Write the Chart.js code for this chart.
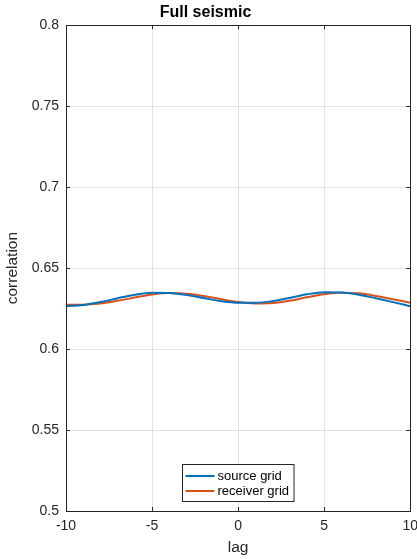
<!DOCTYPE html>
<html>
<head>
<meta charset="utf-8">
<script src="https://cdn.jsdelivr.net/npm/chart.js@4/dist/chart.umd.min.js"></script>
<style>
html,body{margin:0;padding:0;background:#fff;overflow:hidden;width:417px;height:559px;}
canvas{display:block;}
</style>
</head>
<body>
<canvas id="c" width="425" height="559"></canvas>
<script>
const lags = [-10,-9,-8,-7,-6,-5,-4,-3,-2,-1,0,1,2,3,4,5,6,7,8,9,10];
const sourceGrid = [0.6265,0.6272,0.6290,0.6314,0.6336,0.6348,0.6347,0.6334,0.6315,0.6296,0.6286,0.6286,0.6296,0.6316,0.6338,0.6351,0.6350,0.6336,0.6314,0.6290,0.6265];
const receiverGrid = [0.6273,0.6274,0.6282,0.6298,0.6318,0.6337,0.6346,0.6342,0.6328,0.6308,0.6290,0.6282,0.6285,0.6299,0.6320,0.6339,0.6348,0.6344,0.6328,0.6308,0.6286];
const seriesNames = ['source grid','receiver grid'];
const yTicks = [0.5,0.55,0.6,0.65,0.7,0.75,0.8];
const xTicks = [-10,-5,0,5,10];

const FONT = "'Liberation Sans', Arial, Helvetica, sans-serif";
const AXIS = '#262626';

const boxPlugin = {
  id: 'boxPlugin',
  afterDraw(chart) {
    const {ctx, chartArea: a, scales} = chart;
    ctx.save();
    // inward tick marks
    ctx.strokeStyle = AXIS;
    ctx.lineWidth = 1;
    const tl = 4;
    ctx.beginPath();
    xTicks.forEach(v => {
      const x = Math.round(scales.x.getPixelForValue(v)) + 0.5;
      ctx.moveTo(x, a.bottom); ctx.lineTo(x, a.bottom - tl);
      ctx.moveTo(x, a.top); ctx.lineTo(x, a.top + tl);
    });
    yTicks.forEach(v => {
      const y = Math.round(scales.y.getPixelForValue(v)) + 0.5;
      ctx.moveTo(a.left, y); ctx.lineTo(a.left + tl, y);
      ctx.moveTo(a.right, y); ctx.lineTo(a.right - tl, y);
    });
    ctx.stroke();
    // box
    ctx.strokeRect(Math.round(a.left) + 0.5, Math.round(a.top) + 0.5,
                   Math.round(a.right) - Math.round(a.left), Math.round(a.bottom) - Math.round(a.top));
    // legend
    ctx.font = '13px ' + FONT;
    const ds = chart.data.datasets;
    let tw = 0;
    ds.forEach(d => { tw = Math.max(tw, ctx.measureText(d.label).width); });
    const lineLen = 29, padL = 3, gap = 3, padR = 5, rowH = 15;
    const w = padL + lineLen + gap + tw + padR;
    const h = 37;
    const cx = (a.left + a.right) / 2;
    const bx = Math.round(cx - w / 2) + 0.5;
    const by = Math.round(a.bottom - 10 - h) + 0.5;
    ctx.fillStyle = '#ffffff';
    ctx.fillRect(bx, by, w, h);
    ctx.strokeStyle = AXIS;
    ctx.lineWidth = 1;
    ctx.strokeRect(bx, by, w, h);
    ds.forEach((d, i) => {
      const ly = by + 11.5 + i * rowH;
      ctx.strokeStyle = d.borderColor;
      ctx.lineWidth = 2;
      ctx.beginPath();
      ctx.moveTo(bx + padL, ly);
      ctx.lineTo(bx + padL + lineLen, ly);
      ctx.stroke();
      ctx.fillStyle = '#000';
      ctx.textBaseline = 'middle';
      ctx.textAlign = 'left';
      ctx.fillText(d.label, bx + padL + lineLen + gap, ly);
    });
    ctx.restore();
  }
};

new Chart(document.getElementById('c'), {
  type: 'line',
  data: {
    labels: lags,
    datasets: [
      {label: seriesNames[0], data: lags.map((l, i) => ({x: l, y: sourceGrid[i]})),
       borderColor: '#0072BD', borderWidth: 2, pointRadius: 0, cubicInterpolationMode: 'monotone', fill: false},
      {label: seriesNames[1], data: lags.map((l, i) => ({x: l, y: receiverGrid[i]})),
       borderColor: '#D95319', borderWidth: 2, pointRadius: 0, cubicInterpolationMode: 'monotone', fill: false}
    ]
  },
  options: {
    responsive: false,
    animation: false,
    devicePixelRatio: 1,
    layout: {padding: {left: 0, right: 14, top: 0, bottom: 0}},
    plugins: {
      legend: {display: false},
      tooltip: {enabled: false},
      title: {
        display: true, text: 'Full seismic', color: '#000',
        font: {family: FONT, size: 16, weight: 'bold', lineHeight: 1.2},
        padding: {top: 3, bottom: 3}
      }
    },
    scales: {
      x: {
        type: 'linear', min: -10, max: 10,
        afterBuildTicks(s) { s.ticks = xTicks.map(v => ({value: v})); },
        afterFit(s) { s.height = 48; },
        grid: {color: '#e3e3e3', drawTicks: false},
        border: {display: false},
        ticks: {color: AXIS, font: {family: FONT, size: 14}, padding: 7, maxRotation: 0,
                callback: v => String(v)},
        title: {display: true, text: 'lag', color: AXIS, font: {family: FONT, size: 15.5}, padding: {top: 0, bottom: 2}}
      },
      y: {
        type: 'linear', min: 0.5, max: 0.8,
        afterBuildTicks(s) { s.ticks = yTicks.map(v => ({value: v})); },
        afterFit(s) { s.width = 66; },
        grid: {color: '#e3e3e3', drawTicks: false},
        border: {display: false},
        ticks: {color: AXIS, font: {family: FONT, size: 14}, padding: 7,
                callback: v => String(Math.round(v * 100) / 100)},
        title: {display: true, text: 'correlation', color: AXIS, font: {family: FONT, size: 15.5}, padding: {top: 3, bottom: 0}}
      }
    }
  },
  plugins: [boxPlugin]
});
</script>
</body>
</html>
